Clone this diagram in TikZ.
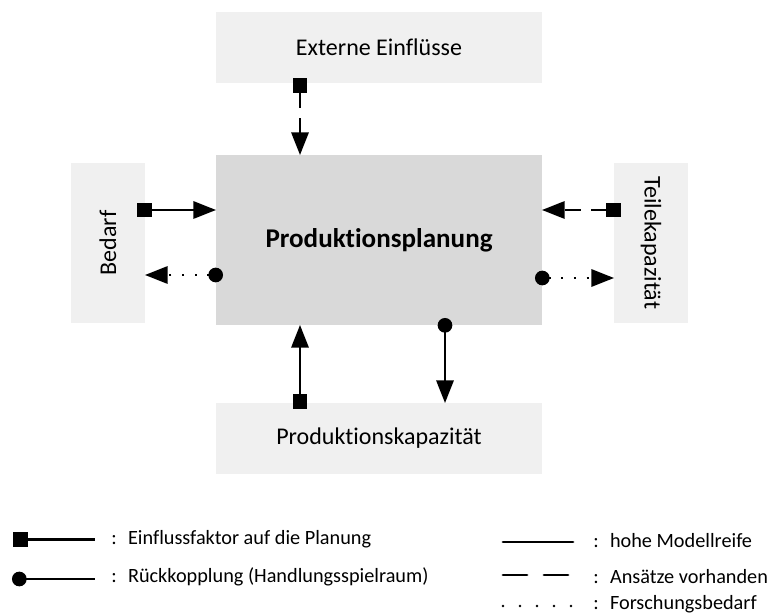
\documentclass[tikz,border=0pt]{standalone}
\usepackage{fontspec}
\setmainfont{Carlito}[Ligatures=NoCommon]
\usetikzlibrary{arrows.meta}

\tikzset{
  outerbox/.style={fill=black!6, inner sep=0pt, outer sep=0pt, font=\fontsize{18}{21}\selectfont},
  planbox/.style={fill=black!15, inner sep=0pt, outer sep=0pt, font=\fontsize{20.3}{24}\selectfont\bfseries},
  link/.style={line width=1.6pt},
  solidlink/.style={link},
  dashlink/.style={link, dash pattern=on 12pt off 8pt},
  dotlink/.style={link, dash pattern=on 1.5pt off 8pt},
  infl/.style={{Square[length=11pt, width=11pt]}-{Triangle[length=17pt, width=13pt]}},
  feed/.style={{Circle[length=11pt]}-{Triangle[length=17pt, width=13pt]}},
  legline/.style={line width=2.2pt, line cap=round},
  legtext/.style={anchor=west, inner sep=0pt, font=\fontsize{15.2}{18}\selectfont}
}
\newcommand{\legsep}{:\hspace{8.5pt}}

\begin{document}
\begin{tikzpicture}[x=0.75pt, y=-0.75pt]
    \useasboundingbox (0,0) rectangle (770,616);

    % Boxes
    \node[planbox, minimum width=244.5pt, minimum height=127.5pt] (plan) at (379,240) {Produktionsplanung};
    \node[outerbox, minimum width=244.5pt, minimum height=53.25pt] (extern) at (379,47.5) {Externe Einflüsse};
    \node[outerbox, minimum width=244.5pt, minimum height=53.25pt] (kap) at (379,438.5) {Produktionskapazität};
    \node[outerbox, minimum width=55.5pt, minimum height=120pt] (bedarf) at (108,243) {};
    \node[rotate=90, font=\fontsize{18}{21}\selectfont] (bedarflabel) at (bedarf.center) {Bedarf};
    \node[outerbox, minimum width=55.5pt, minimum height=120pt] (teile) at (651,243) {};
    \node[rotate=-90, font=\fontsize{18}{21}\selectfont] (teilelabel) at (teile.center) {Teilekapazität};

    % Start points of the connectors
    \coordinate (e1) at (300,78);
    \coordinate (b1) at (137,210);
    \coordinate (b2) at (223,275);
    \coordinate (t1) at (621,210);
    \coordinate (t2) at (535,278);
    \coordinate (k1) at (300,409);
    \coordinate (k2) at (445,318);

    % Externe Einfluesse -> Planung
    \draw[dashlink, infl] (e1) -- (e1 |- plan.north);

    % Bedarf
    \draw[solidlink, infl] (b1) -- (b1 -| plan.west);
    \draw[dotlink, feed] (b2) -- (b2 -| bedarf.east);

    % Teilekapazitaet
    \draw[dashlink, infl] (t1) -- (t1 -| plan.east);
    \draw[dotlink, feed] (t2) -- (t2 -| teile.west);

    % Produktionskapazitaet
    \draw[solidlink, infl] (k1) -- (k1 |- plan.south);
    \draw[solidlink, feed] (k2) -- (k2 |- kap.north);

    % Legend
    \coordinate (l1) at (13,539.5);
    \coordinate (l2) at (12,579);
    \coordinate (r1) at (503,542);
    \coordinate (r2) at (503,575);
    \coordinate (r3) at (503,606);
    \draw[legline, line cap=butt, {Square[length=11pt, width=11pt]}-] (l1) -- (95,539.5) coordinate (l1e);
    \draw[legline, line cap=butt, {Circle[length=11pt]}-] (l2) -- (95,579) coordinate (l2e);
    \node[legtext] (leg1) at (111,539) {\legsep Einflussfaktor auf die Planung};
    \node[legtext] (leg2) at (111,577) {\legsep Rückkopplung (Handlungsspielraum)};
    \draw[legline] (r1) -- ++(70,0) coordinate (r1e);
    \draw[legline, dash pattern=on 18pt off 12.75pt] (r2) -- ++(67,0) coordinate (r2e);
    \draw[legline, dash pattern=on 0pt off 12.75pt] (r3) -- ++(70,0) coordinate (r3e);
    \node[legtext] (leg3) at (593,541) {\legsep hohe Modellreife};
    \node[legtext] (leg4) at (593,577) {\legsep Ansätze vorhanden};
    \node[legtext] (leg5) at (593,604) {\legsep Forschungsbedarf};
\end{tikzpicture}
\end{document}
